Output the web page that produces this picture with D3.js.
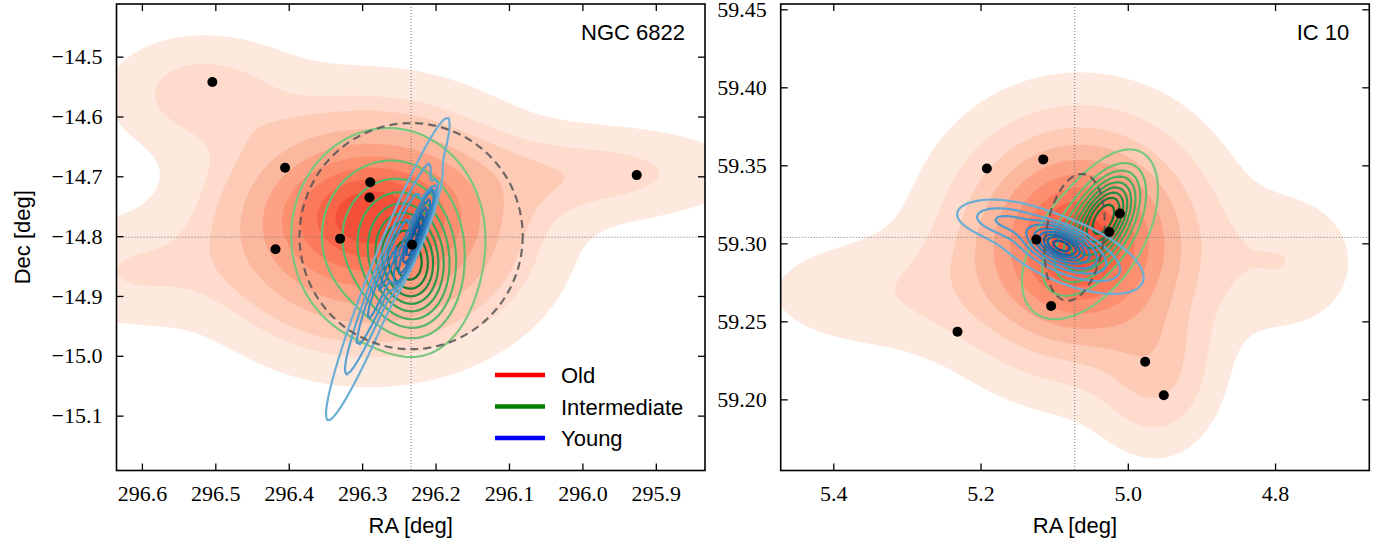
<!DOCTYPE html>
<html><head><meta charset="utf-8">
<script src="https://cdn.jsdelivr.net/npm/d3@7"></script>
<style>
body{margin:0;background:#fff;}
svg{display:block;}
</style></head><body>
<svg id="chart" width="1386" height="543"></svg>
<script>
// ---------------- data ----------------
const ngcRaTicks = [296.6, 296.5, 296.4, 296.3, 296.2, 296.1, 296.0, 295.9];
const ngcDecTicks = [-14.5, -14.6, -14.7, -14.8, -14.9, -15.0, -15.1];
const icRaTicks = [5.4, 5.2, 5.0, 4.8];
const icDecTicks = [59.45, 59.40, 59.35, 59.30, 59.25, 59.20];
const ngcRaDomain = [296.6346, 295.833];
const ngcDecDomain = [-15.1917, -14.412];
const icRaDomain = [5.4714, 4.672];
const icDecDomain = [59.1544, 59.4534];
const ngcCenter = [296.2333, -14.8017];
const icCenter = [5.0721, 59.3038];
const ngcClusterRA = [296.504, 296.405, 296.289, 296.290, 296.330, 296.418, 296.232, 295.926];
const ngcClusterDec = [-14.5425, -14.6858, -14.7098, -14.7353, -14.8042, -14.822, -14.8142, -14.698];
const icClusterRA = [5.1914, 5.1148, 5.0108, 5.0251, 5.1243, 5.1041, 5.2313, 4.9764, 4.9511];
const icClusterDec = [59.348, 59.3538, 59.3191, 59.3073, 59.3024, 59.2598, 59.2434, 59.2241, 59.2026];
// density components: [ra, dec, sigmaRA, sigmaDec, rho, weight]
const ngcOld = [
  [296.29, -14.785, 0.12, 0.112, 0.0, 1.0],
  [296.285, -14.765, 0.06, 0.05, 0.0, 0.25],
  [296.52, -14.56, 0.08, 0.06, 0.0, 0.07],
  [295.97, -14.695, 0.12, 0.05, 0.0, 0.08],
  [296.62, -14.86, 0.08, 0.06, 0.0, 0.05]
];
const ngcIntermediate = [
  [296.235, -14.845, 0.03, 0.055, 0.1, 0.5],
  [296.265, -14.80, 0.062, 0.085, 0.0, 0.5]
];
const ngcYoung = [
  [296.228, -14.80, 0.012, 0.035, -0.93, 0.5],
  [296.265, -14.855, 0.04, 0.12, -0.96, 0.5]
];
const icOld = [
  [5.065, 59.30, 0.10, 0.046, 0.0, 1.0],
  [5.065, 59.30, 0.045, 0.022, 0.0, 0.3],
  [4.96, 59.215, 0.05, 0.03, 0.0, 0.08],
  [5.33, 59.268, 0.12, 0.025, 0.0, 0.08],
  [4.78, 59.288, 0.06, 0.028, 0.0, 0.05]
];
const icIntermediate = [
  [5.03, 59.318, 0.025, 0.016, -0.5, 0.5],
  [5.055, 59.30, 0.042, 0.023, -0.5, 0.5]
];
const icYoung = [
  [5.09, 59.2985, 0.02, 0.006, 0.5, 0.5],
  [5.08, 59.294, 0.05, 0.013, 0.6, 0.4],
  [5.17, 59.315, 0.035, 0.007, 0.3, 0.1]
];
// ellipse: [ra, dec, semiRA, semiDec, rotationDeg]
const ngcEllipse = [296.2333, -14.80, 0.152, 0.189, 0];
const icEllipse = [5.0721, 59.3038, 0.0394, 0.041, 8];
const isoProportions = [0.05, 0.156, 0.261, 0.367, 0.472, 0.578, 0.683, 0.789, 0.894];
const legendLabels = ["Old", "Intermediate", "Young"];
const panelTitles = ["NGC 6822", "IC 10"];

// ---------------- drawing ----------------
const svg = d3.select("#chart");
const legendColors = ["#ff0000", "#008000", "#0000ff"];

function gauss(comps, ra, dec) {
  let s = 0;
  for (const [mx, my, sx, sy, r, w] of comps) {
    const zx = (ra - mx) / sx, zy = (dec - my) / sy;
    const q = (zx * zx - 2 * r * zx * zy + zy * zy) / (1 - r * r);
    s += w * Math.exp(-0.5 * q) / (2 * Math.PI * sx * sy * Math.sqrt(1 - r * r));
  }
  return s;
}

function contourSet(comps, raDom, decDom, pad) {
  const ra0 = Math.min(...raDom), ra1 = Math.max(...raDom);
  const de0 = Math.min(...decDom), de1 = Math.max(...decDom);
  const wr = ra1 - ra0, wd = de1 - de0;
  const gx0 = ra0 - pad * wr, gx1 = ra1 + pad * wr;
  const gy0 = de0 - pad * wd, gy1 = de1 + pad * wd;
  const n = 360, m = 300;
  const dx = (gx1 - gx0) / (n - 1), dy = (gy1 - gy0) / (m - 1);
  const vals = new Float64Array(n * m);
  for (let j = 0; j < m; j++) for (let i = 0; i < n; i++)
    vals[i + j * n] = gauss(comps, gx0 + i * dx, gy0 + j * dy);
  const sorted = Array.from(vals).sort((a, b) => b - a);
  const total = d3.sum(sorted);
  const cum = [];
  let acc = 0;
  for (const v of sorted) { acc += v; cum.push(acc); }
  const thresholds = isoProportions.map(q => {
    const target = (1 - q) * total;
    const idx = d3.bisectLeft(cum, target);
    return sorted[Math.min(idx, sorted.length - 1)];
  });
  const cs = d3.contours().size([n, m]).thresholds(thresholds)(Array.from(vals));
  return {cs, gx0, gy0, dx, dy};
}

panelTitles.forEach((title, pi) => {
  const isN = pi === 0;
  const L = isN ? 116.5 : 780.7, R = isN ? 705 : 1369.3, T = 4, B = 470.5;
  const raDom = isN ? ngcRaDomain : icRaDomain;
  const decDom = isN ? ngcDecDomain : icDecDomain;
  const x = d3.scaleLinear().domain(raDom).range([L, R]);
  const y = d3.scaleLinear().domain(decDom).range([B, T]);
  const g = svg.append("g");
  const clipId = "clip" + pi;
  g.append("clipPath").attr("id", clipId).append("rect")
    .attr("x", L).attr("y", T).attr("width", R - L).attr("height", B - T);
  const plot = g.append("g").attr("clip-path", `url(#${clipId})`);

  function pathFor(set) {
    return d3.geoPath(d3.geoTransform({
      point: function (px, py) {
        this.stream.point(x(set.gx0 + (px - 0.5) * set.dx), y(set.gy0 + (py - 0.5) * set.dy));
      }
    }));
  }
  // old: filled
  const oldSet = contourSet(isN ? ngcOld : icOld, raDom, decDom, 0.8);
  const pOld = pathFor(oldSet);
  plot.append("g").selectAll("path").data(oldSet.cs).join("path")
    .attr("d", pOld)
    .attr("fill", (d, i) => d3.interpolateReds(0.07 + i * 0.063))
    .attr("stroke", "none");
  // intermediate: lines
  const midSet = contourSet(isN ? ngcIntermediate : icIntermediate, raDom, decDom, 0.5);
  const pMid = pathFor(midSet);
  plot.append("g").selectAll("path").data(midSet.cs).join("path")
    .attr("d", pMid)
    .attr("fill", "none")
    .attr("stroke", (d, i) => d3.interpolateGreens(0.48 + i * 0.045))
    .attr("stroke-width", 2.2);
  // young: lines
  const ySet = contourSet(isN ? ngcYoung : icYoung, raDom, decDom, 0.5);
  const pY = pathFor(ySet);
  plot.append("g").selectAll("path").data(ySet.cs).join("path")
    .attr("d", pY)
    .attr("fill", "none")
    .attr("stroke", (d, i) => d3.interpolateBlues(0.5 + i * 0.045))
    .attr("stroke-width", 2.2);
  // dashed ellipse
  const el = isN ? ngcEllipse : icEllipse;
  const ecx = x(el[0]), ecy = y(el[1]);
  plot.append("ellipse")
    .attr("cx", ecx).attr("cy", ecy)
    .attr("rx", Math.abs(x(el[0] + el[2]) - ecx))
    .attr("ry", Math.abs(y(el[1] + el[3]) - ecy))
    .attr("transform", `rotate(${el[4]},${ecx},${ecy})`)
    .attr("fill", "none").attr("stroke", "#555").attr("stroke-opacity", 0.85)
    .attr("stroke-width", 2.2).attr("stroke-dasharray", "8,5");
  // crosshair
  const c = isN ? ngcCenter : icCenter;
  plot.append("line").attr("x1", x(c[0])).attr("x2", x(c[0])).attr("y1", T).attr("y2", B)
    .attr("stroke", "#777").attr("stroke-width", 1).attr("stroke-dasharray", "1,2");
  plot.append("line").attr("x1", L).attr("x2", R).attr("y1", y(c[1])).attr("y2", y(c[1]))
    .attr("stroke", "#777").attr("stroke-width", 1).attr("stroke-dasharray", "1,2");
  // points
  const pra = isN ? ngcClusterRA : icClusterRA, pde = isN ? ngcClusterDec : icClusterDec;
  plot.append("g").selectAll("circle").data(pra).join("circle")
    .attr("cx", d => x(d)).attr("cy", (d, i) => y(pde[i])).attr("r", 5).attr("fill", "#000");

  // axes
  const raT = isN ? ngcRaTicks : icRaTicks, deT = isN ? ngcDecTicks : icDecTicks;
  const decFmt = d3.format(isN ? ".1f" : ".2f");
  const ax = [
    g.append("g").attr("transform", `translate(0,${B})`)
      .call(d3.axisBottom(x).tickValues(raT).tickFormat(d3.format(".1f")).tickSize(-7).tickPadding(15)),
    g.append("g").attr("transform", `translate(0,${T})`)
      .call(d3.axisTop(x).tickValues(raT).tickFormat("").tickSize(-7)),
    g.append("g").attr("transform", `translate(${L},0)`)
      .call(d3.axisLeft(y).tickValues(deT).tickFormat(decFmt).tickSize(-7).tickPadding(14)),
    g.append("g").attr("transform", `translate(${R},0)`)
      .call(d3.axisRight(y).tickValues(deT).tickFormat("").tickSize(-7))
  ];
  ax.forEach(a => {
    a.select(".domain").remove();
    a.selectAll("line").attr("stroke", "#000").attr("stroke-width", 1.3);
    a.selectAll("text").attr("font-family", "'Liberation Serif', 'Times New Roman', serif")
      .attr("font-size", 22).attr("fill", "#000");
  });
  g.append("rect").attr("x", L).attr("y", T).attr("width", R - L).attr("height", B - T)
    .attr("fill", "none").attr("stroke", "#000").attr("stroke-width", 1.6);

  const sans = "'Liberation Sans', Arial, sans-serif";
  g.append("text").attr("x", (L + R) / 2).attr("y", 533).attr("text-anchor", "middle")
    .attr("font-family", sans).attr("font-size", 22).text("RA [deg]");
  if (isN) {
    g.append("text").attr("transform", `translate(30,${(T + B) / 2}) rotate(-90)`)
      .attr("text-anchor", "middle").attr("font-family", sans).attr("font-size", 22).text("Dec [deg]");
  }
  g.append("text").attr("x", R - 20).attr("y", 40).attr("text-anchor", "end")
    .attr("font-family", sans).attr("font-size", 22).text(title);

  if (isN) {
    const lg = g.append("g");
    legendLabels.forEach((lab, i) => {
      const ly = 375 + i * 31.5;
      lg.append("line").attr("x1", 495).attr("x2", 545).attr("y1", ly).attr("y2", ly)
        .attr("stroke", legendColors[i]).attr("stroke-width", 4.5);
      lg.append("text").attr("x", 561).attr("y", ly + 8).attr("font-family", sans)
        .attr("font-size", 22).text(lab);
    });
  }
});
</script>
</body></html>
